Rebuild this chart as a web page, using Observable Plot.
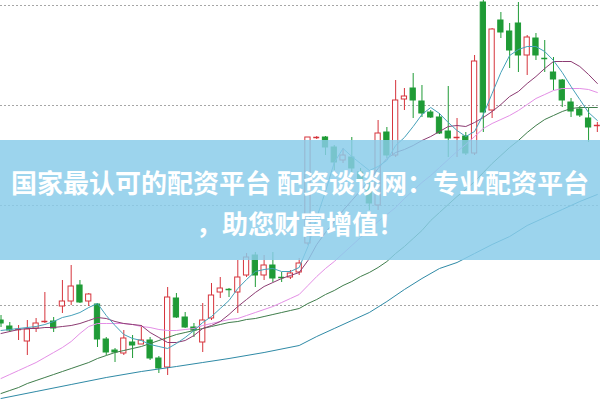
<!DOCTYPE html>
<html>
<head>
<meta charset="utf-8">
<script src="https://cdn.jsdelivr.net/npm/d3@7"></script>
<script src="https://cdn.jsdelivr.net/npm/@observablehq/plot@0.6"></script>
<style>
html,body{margin:0;padding:0;background:#fff;overflow:hidden;}
#wrap{position:relative;width:600px;height:401px;}
#wrap svg{display:block;}
#banner{position:absolute;left:0;top:140px;width:600px;height:120px;background:rgba(137,204,233,0.84);}
#title{position:absolute;left:0;top:161px;width:600px;text-align:center;color:#fff;
  font-family:"Noto Sans CJK SC","Noto Sans",sans-serif;font-weight:700;font-size:26px;line-height:41px;}
</style>
</head>
<body>
<div id="wrap"></div>
<script>
// ---- candle data (price) ----
const open  = [9.85,9.79,9.74,9.64,9.77,9.82,9.84,9.99,10.04,10.20,
               10.04,10.01,9.66,9.55,9.52,9.63,9.61,9.65,9.47,9.38,
               10.07,9.88,9.78,9.63,9.87,10.13,10.17,10.13,10.30,10.50,
               10.30,10.40,10.29,10.28,10.33,10.62,11.66,11.68,11.58,11.45,
               11.48,11.33,11.19,11.00,11.73,11.50,12.06,12.17,12.04,11.93,
               11.88,11.74,11.67,11.69,11.52,13.03,11.95,12.85,12.74,12.82,
               12.50,12.67,12.49,12.33,12.25,12.03,11.96,11.87,11.79];
const high  = [9.90,9.83,9.80,9.85,9.87,10.13,9.88,10.25,10.40,10.25,
               10.12,10.02,9.68,9.57,9.75,9.70,9.80,9.68,9.49,10.18,
               10.12,9.93,9.82,10.02,10.22,10.28,10.17,10.45,10.52,10.53,
               10.50,10.53,10.33,10.35,10.47,11.68,11.69,11.69,11.60,11.57,
               11.68,11.37,11.25,11.85,11.78,12.25,12.17,12.32,12.20,11.95,
               11.92,12.19,11.87,11.73,12.50,13.05,12.77,12.93,12.82,13.03,
               12.70,12.72,12.65,12.48,12.26,12.07,11.99,11.97,11.83];
const low   = [9.78,9.73,9.65,9.50,9.73,9.82,9.73,9.92,10.00,10.02,
               9.99,9.58,9.50,9.43,9.50,9.47,9.61,9.45,9.32,9.30,
               9.87,9.77,9.68,9.53,9.85,10.07,10.08,9.92,10.28,10.18,
               10.25,10.23,10.23,10.26,10.30,10.60,11.66,11.50,11.35,11.42,
               11.30,11.19,10.95,10.95,11.47,11.48,11.95,11.87,11.88,11.87,
               11.71,11.48,11.48,11.50,11.50,11.73,11.87,12.67,12.37,12.33,
               12.30,12.45,12.33,12.15,11.98,11.88,11.88,11.63,11.73];
const close = [9.82,9.75,9.76,9.76,9.82,9.84,9.77,10.04,10.19,10.03,
               10.11,9.66,9.53,9.53,9.67,9.60,9.65,9.47,9.37,10.08,
               9.88,9.78,9.75,9.85,10.10,10.17,10.16,10.28,10.48,10.30,
               10.40,10.27,10.28,10.32,10.42,11.68,11.68,11.58,11.43,11.50,
               11.37,11.25,11.02,11.72,11.50,12.05,12.09,12.05,11.92,11.88,
               11.72,11.67,11.68,11.52,12.44,11.93,12.76,12.73,12.55,12.50,
               12.68,12.50,12.47,12.26,12.05,11.94,11.90,11.78,11.80];

// ---- moving averages ----
const ma5  = [9.75,9.76,9.77,9.78,9.79,9.81,9.84,9.88,9.90,9.93,
              9.98,10.02,9.90,9.80,9.71,9.67,9.65,9.61,9.59,9.57,
              9.62,9.68,9.75,9.83,9.89,9.97,10.05,10.17,10.26,10.34,
              10.36,10.37,10.34,10.34,10.38,10.59,10.88,11.14,11.43,11.57,
              11.49,11.42,11.35,11.39,11.45,11.60,11.68,11.79,11.91,11.98,
              11.92,11.83,11.75,11.69,11.74,11.91,12.12,12.33,12.50,12.56,
              12.59,12.59,12.54,12.45,12.33,12.19,12.06,11.93,11.85];
const ma10 = [9.72,9.74,9.76,9.77,9.77,9.78,9.78,9.79,9.80,9.82,
              9.85,9.88,9.87,9.84,9.82,9.81,9.80,9.73,9.68,9.63,
              9.63,9.65,9.70,9.77,9.80,9.84,9.91,9.99,10.06,10.13,
              10.19,10.23,10.27,10.30,10.33,10.45,10.61,10.73,10.84,10.95,
              11.05,11.15,11.25,11.37,11.47,11.53,11.56,11.60,11.65,11.69,
              11.74,11.79,11.80,11.79,11.83,11.88,11.94,12.01,12.09,12.14,
              12.22,12.29,12.37,12.44,12.44,12.44,12.39,12.31,12.22];
const ma20 = [9.27,9.31,9.35,9.39,9.43,9.48,9.53,9.58,9.64,9.72,
              9.79,9.82,9.82,9.82,9.82,9.81,9.79,9.78,9.76,9.75,
              9.75,9.76,9.77,9.80,9.82,9.84,9.86,9.87,9.90,9.93,
              9.96,9.99,10.03,10.07,10.11,10.20,10.29,10.37,10.44,10.52,
              10.60,10.68,10.76,10.84,10.91,10.98,11.07,11.15,11.23,11.30,
              11.38,11.46,11.54,11.61,11.69,11.77,11.82,11.86,11.90,11.95,
              12.01,12.07,12.11,12.15,12.17,12.17,12.17,12.16,12.13];
const ma30 = [9.12,9.15,9.18,9.22,9.25,9.28,9.31,9.34,9.37,9.40,
              9.43,9.47,9.50,9.53,9.55,9.57,9.59,9.62,9.65,9.68,
              9.71,9.73,9.75,9.77,9.79,9.81,9.83,9.84,9.86,9.87,
              9.89,9.91,9.93,9.95,9.97,10.02,10.06,10.11,10.15,10.20,
              10.24,10.29,10.33,10.38,10.44,10.52,10.59,10.67,10.75,10.85,
              10.93,11.01,11.09,11.16,11.24,11.33,11.42,11.50,11.58,11.65,
              11.73,11.80,11.86,11.90,11.94,11.97,11.98,11.98,11.98];
const ma60Idx = [0,4,8,12,16,20,23,26,30,34,36,38,40,42,44,46,48,50,52,54,56,58,60,62,64,66,68];
const ma60    = [9.07,9.14,9.21,9.28,9.34,9.39,9.43,9.47,9.53,9.60,9.69,9.77,9.85,9.93,10.04,10.16,10.27,10.37,10.43,10.52,10.61,10.69,10.80,10.88,10.96,11.04,11.11];

const gridLevels = [10, 11, 12, 13];

const RED = "#d6343c", GREEN = "#1f9b36";
const data = d3.range(open.length).map(i => ({i, o: open[i], h: high[i], l: low[i], c: close[i], up: close[i] >= open[i]}));
const col = d => d.up ? RED : GREEN;
const bodies = data.filter(d => Math.abs(d.o - d.c) > 0.02);
const dojis  = data.filter(d => Math.abs(d.o - d.c) <= 0.02);

const full = arr => arr.map((v, i) => ({i, v}));
const series = [
  {pts: ma60Idx.map((k, j) => ({i: k, v: ma60[j]})), color: "#2f8aa6"},
  {pts: full(ma30), color: "#3f7d4b"},
  {pts: full(ma20), color: "#e48fe6"},
  {pts: full(ma10), color: "#8c3b72"},
  {pts: full(ma5),  color: "#46a1ba"}
];

const chart = Plot.plot({
  width: 600, height: 401, margin: 0,
  x: {type: "linear", domain: [-0.06, 68.36], axis: null},
  y: {domain: [9.04, 13.05], axis: null},
  color: {type: "identity"},
  style: {background: "#fff", overflow: "hidden"},
  marks: [
    Plot.ruleY(gridLevels, {stroke: "#a6a6a6", strokeDasharray: "2,2"}),
    Plot.ruleX(data, {x: "i", y1: "l", y2: "h", stroke: col}),
    Plot.rect(bodies, {x1: d => d.i - 0.3, x2: d => d.i + 0.3,
      y1: d => Math.min(d.o, d.c), y2: d => Math.max(d.o, d.c),
      fill: d => d.up ? "#ffffff" : GREEN, stroke: col}),
    Plot.ruleY(dojis, {x1: d => d.i - 0.34, x2: d => d.i + 0.34, y: "c", stroke: col, strokeWidth: 1.5}),
    ...series.map(s => Plot.line(s.pts, {x: "i", y: "v", stroke: s.color, strokeWidth: 1}))
  ]
});
const wrap = document.getElementById("wrap");
wrap.appendChild(chart);
const banner = document.createElement("div");
banner.id = "banner";
wrap.appendChild(banner);
const title = document.createElement("div");
title.id = "title";
title.innerHTML = "<div>国家最认可的配资平台 配资谈谈网：专业配资平台</div><div>，助您财富增值！</div>";
wrap.appendChild(title);
</script>
</body>
</html>
